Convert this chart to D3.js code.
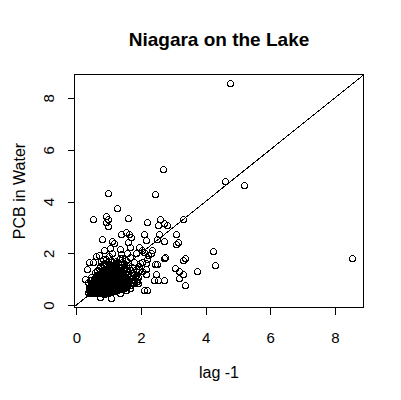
<!DOCTYPE html>
<html><head><meta charset="utf-8">
<script src="https://cdn.jsdelivr.net/npm/d3@7"></script>
<style>
html,body{margin:0;padding:0;background:#fff;}
svg{display:block;}
text{font-family:"Liberation Sans",Arial,sans-serif;fill:#000;}
</style>
</head><body><div id="chart"></div>
<script>
const chartTitle = "Niagara on the Lake";
const xLabel = "lag -1";
const yLabel = "PCB in Water";
const xTicks = [0, 2, 4, 6, 8];
const yTicks = [0, 2, 4, 6, 8];
const refIntercept = 0, refSlope = 1;

// lag-1 values (x) and PCB in water (y)
const lagValues = [
  0.36,0.38,0.40,0.42,0.44,0.37,0.45,0.41,0.39,0.43,
  0.47,0.49,0.52,0.48,0.53,0.50,0.46,0.54,0.51,0.55,0.47,
  0.57,0.60,0.62,0.58,0.63,0.56,0.61,0.64,0.59,0.62,0.57,0.65,0.60,0.63,
  0.67,0.70,0.72,0.68,0.74,0.66,0.71,0.73,0.69,0.75,0.67,0.72,0.70,0.74,0.66,0.73,
  0.77,0.80,0.82,0.78,0.84,0.76,0.81,0.83,0.79,0.85,0.77,0.82,0.80,0.84,0.78,0.83,0.76,0.81,
  0.87,0.90,0.92,0.88,0.94,0.86,0.91,0.93,0.89,0.95,0.87,0.92,0.90,0.94,0.88,0.93,0.86,0.91,0.89,
  0.97,1.00,1.02,0.98,1.04,0.96,1.01,1.03,0.99,1.05,0.97,1.02,1.00,1.04,0.98,1.03,0.96,1.01,0.99,
  1.07,1.10,1.12,1.08,1.14,1.06,1.11,1.13,1.09,1.15,1.07,1.12,1.10,1.14,1.08,1.13,1.06,
  1.17,1.20,1.22,1.18,1.24,1.16,1.21,1.23,1.19,1.25,1.17,1.22,1.20,1.24,1.18,1.23,
  1.27,1.30,1.32,1.28,1.34,1.26,1.31,1.33,1.29,1.35,1.27,1.32,1.30,1.34,1.28,
  1.37,1.40,1.42,1.38,1.44,1.36,1.41,1.43,1.39,1.45,1.37,1.42,1.40,
  1.47,1.50,1.52,1.48,1.54,1.46,1.51,1.53,1.49,1.55,1.47,
  1.57,1.60,1.62,1.58,1.64,1.56,1.61,1.63,1.59,
  1.67,1.70,1.72,1.68,1.74,1.66,1.71,
  1.77,1.80,1.82,1.78,1.84,
  1.88,1.92,1.90,1.94,
  0.45,0.44,0.46,0.45,0.44,0.46,
  0.55,0.56,0.54,0.55,0.56,0.54,0.55,0.53,
  0.65,0.66,0.64,0.65,0.66,0.64,0.65,0.66,0.64,
  0.75,0.76,0.74,0.75,0.76,0.74,0.75,0.76,0.74,0.75,
  0.85,0.86,0.84,0.85,0.86,0.84,0.85,0.86,0.84,0.85,0.86,
  0.95,0.96,0.94,0.95,0.96,0.94,0.95,0.96,0.94,0.95,0.96,
  1.05,1.06,1.04,1.05,1.06,1.04,1.05,1.06,1.04,1.05,1.06,
  1.15,1.16,1.14,1.15,1.16,1.14,1.15,1.16,1.14,1.15,
  1.25,1.26,1.24,1.25,1.26,1.24,1.25,1.26,1.24,
  1.35,1.36,1.34,1.35,1.36,1.34,1.35,1.36,
  1.45,1.46,1.44,1.45,1.46,1.44,1.45,
  1.55,1.56,1.54,1.55,1.56,
  4.77,8.54,2.69,4.60,5.19,0.98,2.44,1.27,0.52,0.92,
  0.98,0.93,0.99,1.60,2.59,3.31,2.19,2.53,2.70,2.81,
  0.79,1.38,1.55,1.63,1.69,1.61,1.10,1.17,2.11,2.17,
  2.57,2.49,2.72,3.10,3.16,3.08,4.24,4.29,3.74,3.35,
  3.31,2.74,2.71,3.05,3.19,3.31,3.18,3.36,2.72,2.52,
  2.40,2.48,2.43,2.51,2.18,2.10,1.06,0.26,0.34,0.40,
  0.52,1.67,1.84,1.95,2.04,2.08,2.21,2.33,2.32,2.04,
  1.96,2.15,2.17,1.95,2.03,1.85,1.88,1.67,1.73,1.90,
  2.16,1.80,2.19,0.85,1.03,1.12,1.36,1.39,1.57,1.67,
  0.71,0.83,0.61,1.55,1.32,1.22,1.64,1.53,1.21,1.34,
  0.74,0.55
];
const pcbValues = [
  0.52,0.60,0.70,0.48,0.82,0.88,0.56,0.95,0.66,0.75,
  0.50,0.58,0.64,0.72,0.80,0.88,0.96,1.04,0.46,0.68,1.10,
  0.47,0.53,0.61,0.69,0.76,0.84,0.92,1.00,1.08,1.17,1.26,0.57,0.73,1.35,
  0.45,0.52,0.60,0.67,0.74,0.82,0.89,0.97,1.05,1.13,1.21,1.30,1.42,0.55,0.93,1.52,
  0.48,0.56,0.63,0.70,0.78,0.85,0.93,1.01,1.09,1.16,1.24,1.33,1.45,1.58,0.60,0.88,1.70,1.05,
  0.44,0.52,0.60,0.68,0.75,0.83,0.90,0.98,1.06,1.14,1.22,1.30,1.40,1.50,1.62,0.65,1.00,1.78,0.80,
  0.47,0.55,0.62,0.70,0.78,0.86,0.94,1.02,1.10,1.18,1.27,1.36,1.47,1.58,1.70,0.88,1.05,1.88,0.66,
  0.50,0.58,0.66,0.73,0.81,0.89,0.97,1.05,1.13,1.22,1.31,1.41,1.53,1.65,0.62,0.93,1.76,
  0.53,0.61,0.69,0.77,0.85,0.93,1.01,1.09,1.18,1.27,1.37,1.48,1.60,1.72,0.99,0.57,
  0.58,0.66,0.74,0.82,0.90,0.98,1.06,1.15,1.24,1.34,1.45,1.56,1.68,1.82,1.12,
  0.62,0.71,0.80,0.88,0.97,1.05,1.14,1.23,1.33,1.43,1.54,1.66,1.80,
  0.66,0.76,0.86,0.95,1.04,1.13,1.22,1.32,1.42,1.53,1.64,
  0.72,0.82,0.92,1.02,1.12,1.21,1.31,1.42,1.55,
  0.78,0.90,1.01,1.12,1.24,1.35,1.48,
  0.84,0.97,1.10,1.22,1.40,
  0.92,1.08,1.26,1.50,
  0.51,0.62,0.73,0.85,0.57,0.78,
  0.49,0.57,0.65,0.76,0.84,0.92,1.00,0.61,
  0.50,0.58,0.65,0.72,0.80,0.88,0.96,1.04,1.12,
  0.51,0.59,0.66,0.74,0.82,0.90,0.98,1.06,1.18,1.28,
  0.48,0.56,0.64,0.72,0.80,0.88,0.96,1.04,1.12,1.26,1.36,
  0.51,0.58,0.66,0.73,0.81,0.89,0.97,1.05,1.18,1.26,1.35,
  0.54,0.62,0.70,0.77,0.85,0.93,1.01,1.09,1.17,1.27,1.38,
  0.56,0.64,0.72,0.80,0.89,0.97,1.05,1.13,1.25,1.36,
  0.62,0.70,0.78,0.86,0.94,1.02,1.10,1.19,1.30,
  0.66,0.75,0.84,0.93,1.01,1.10,1.19,1.28,
  0.70,0.80,0.90,1.00,1.09,1.18,1.28,
  0.78,0.88,0.98,1.08,1.18,
  8.59,1.83,5.26,4.79,4.63,4.33,4.29,3.76,3.33,3.44,
  3.33,3.21,3.06,3.37,3.33,3.33,3.21,3.10,3.17,3.10,
  2.56,2.76,2.82,2.73,2.62,2.44,2.47,2.40,2.73,2.51,
  2.76,2.56,2.49,2.76,2.44,2.37,2.10,1.56,1.33,1.82,
  1.74,1.86,1.82,1.44,1.32,1.22,1.05,0.79,0.97,0.96,
  0.96,1.22,1.59,1.59,0.58,0.58,0.26,0.99,1.40,1.67,
  1.67,2.26,2.03,2.26,2.12,2.04,1.94,2.12,2.03,1.68,
  1.64,1.64,1.38,1.36,1.31,1.15,1.01,0.67,0.87,0.87,
  1.19,1.65,1.77,2.13,2.22,2.00,2.17,1.97,2.00,1.85,
  1.92,1.79,1.91,1.74,1.79,1.62,1.44,0.59,0.62,0.46,
  0.33,0.46
];

const W = 401, H = 400;
const box = {left: 74, right: 363, top: 74, bottom: 307};
const padExt = e => { const r = e[1] - e[0]; return [e[0] - 0.04 * r, e[1] + 0.04 * r]; };

const x = d3.scaleLinear().domain(padExt(d3.extent(lagValues))).range([box.left, box.right]);
const y = d3.scaleLinear().domain(padExt(d3.extent(pcbValues))).range([box.bottom, box.top]);

const svg = d3.select("#chart").append("svg").attr("width", W).attr("height", H);

svg.append("defs").append("clipPath").attr("id", "plotclip")
  .append("rect").attr("x", box.left).attr("y", box.top)
  .attr("width", box.right - box.left).attr("height", box.bottom - box.top);

// points
const pts = lagValues.map((v, i) => [v, pcbValues[i]]);
svg.append("g").attr("clip-path", "url(#plotclip)")
  .selectAll("circle").data(pts).join("circle")
  .attr("cx", d => Math.round(x(d[0])) + 0.5).attr("cy", d => Math.round(y(d[1])) + 0.5).attr("r", 3)
  .attr("fill", "none").attr("stroke", "#000").attr("stroke-width", 1)
  .attr("shape-rendering", "crispEdges");

// reference line y = x
const xd = x.domain();
svg.append("line").attr("clip-path", "url(#plotclip)")
  .attr("x1", x(xd[0] - 1)).attr("y1", y(refIntercept + refSlope * (xd[0] - 1)))
  .attr("x2", x(xd[1] + 1)).attr("y2", y(refIntercept + refSlope * (xd[1] + 1)))
  .attr("stroke", "#000").attr("stroke-width", 1)
  .attr("shape-rendering", "crispEdges");

// box
svg.append("rect").attr("x", box.left + 0.5).attr("y", box.top + 0.5)
  .attr("width", box.right - box.left).attr("height", box.bottom - box.top)
  .attr("fill", "none").attr("stroke", "#000").attr("stroke-width", 1)
  .attr("shape-rendering", "crispEdges");

// axes
const gx = svg.append("g").attr("transform", `translate(0,${box.bottom + 0.5})`)
  .call(d3.axisBottom(x).tickValues(xTicks).tickFormat(d3.format("d")).tickSize(7).tickSizeOuter(0));
gx.select(".domain").remove();
gx.selectAll("line").attr("shape-rendering", "crispEdges");
gx.selectAll("text").attr("y", 35.5).attr("dy", 0).attr("font-size", 15)
  .attr("font-family", "Liberation Sans, Arial, sans-serif").attr("fill", "#000");

const gy = svg.append("g").attr("transform", `translate(${box.left + 0.5},0)`)
  .call(d3.axisLeft(y).tickValues(yTicks).tickFormat(d3.format("d")).tickSize(7).tickSizeOuter(0));
gy.select(".domain").remove();
gy.selectAll("line").attr("shape-rendering", "crispEdges");
gy.selectAll("text").attr("x", 0).attr("y", 0).attr("dy", 0)
  .attr("text-anchor", "middle").attr("transform", "translate(-21,0) rotate(-90)")
  .attr("font-size", 15).attr("font-family", "Liberation Sans, Arial, sans-serif").attr("fill", "#000");

// titles
const cx = (box.left + box.right) / 2 + 0.5;
svg.append("text").attr("x", cx).attr("y", 46).attr("text-anchor", "middle")
  .attr("font-size", 19).attr("font-weight", "bold").text(chartTitle);
svg.append("text").attr("x", cx).attr("y", 377.5).attr("text-anchor", "middle")
  .attr("font-size", 16).text(xLabel);
svg.append("text").attr("transform", `translate(25,${(box.top + box.bottom) / 2 + 0.5}) rotate(-90)`)
  .attr("text-anchor", "middle").attr("font-size", 16).text(yLabel);
</script>
</body></html>
